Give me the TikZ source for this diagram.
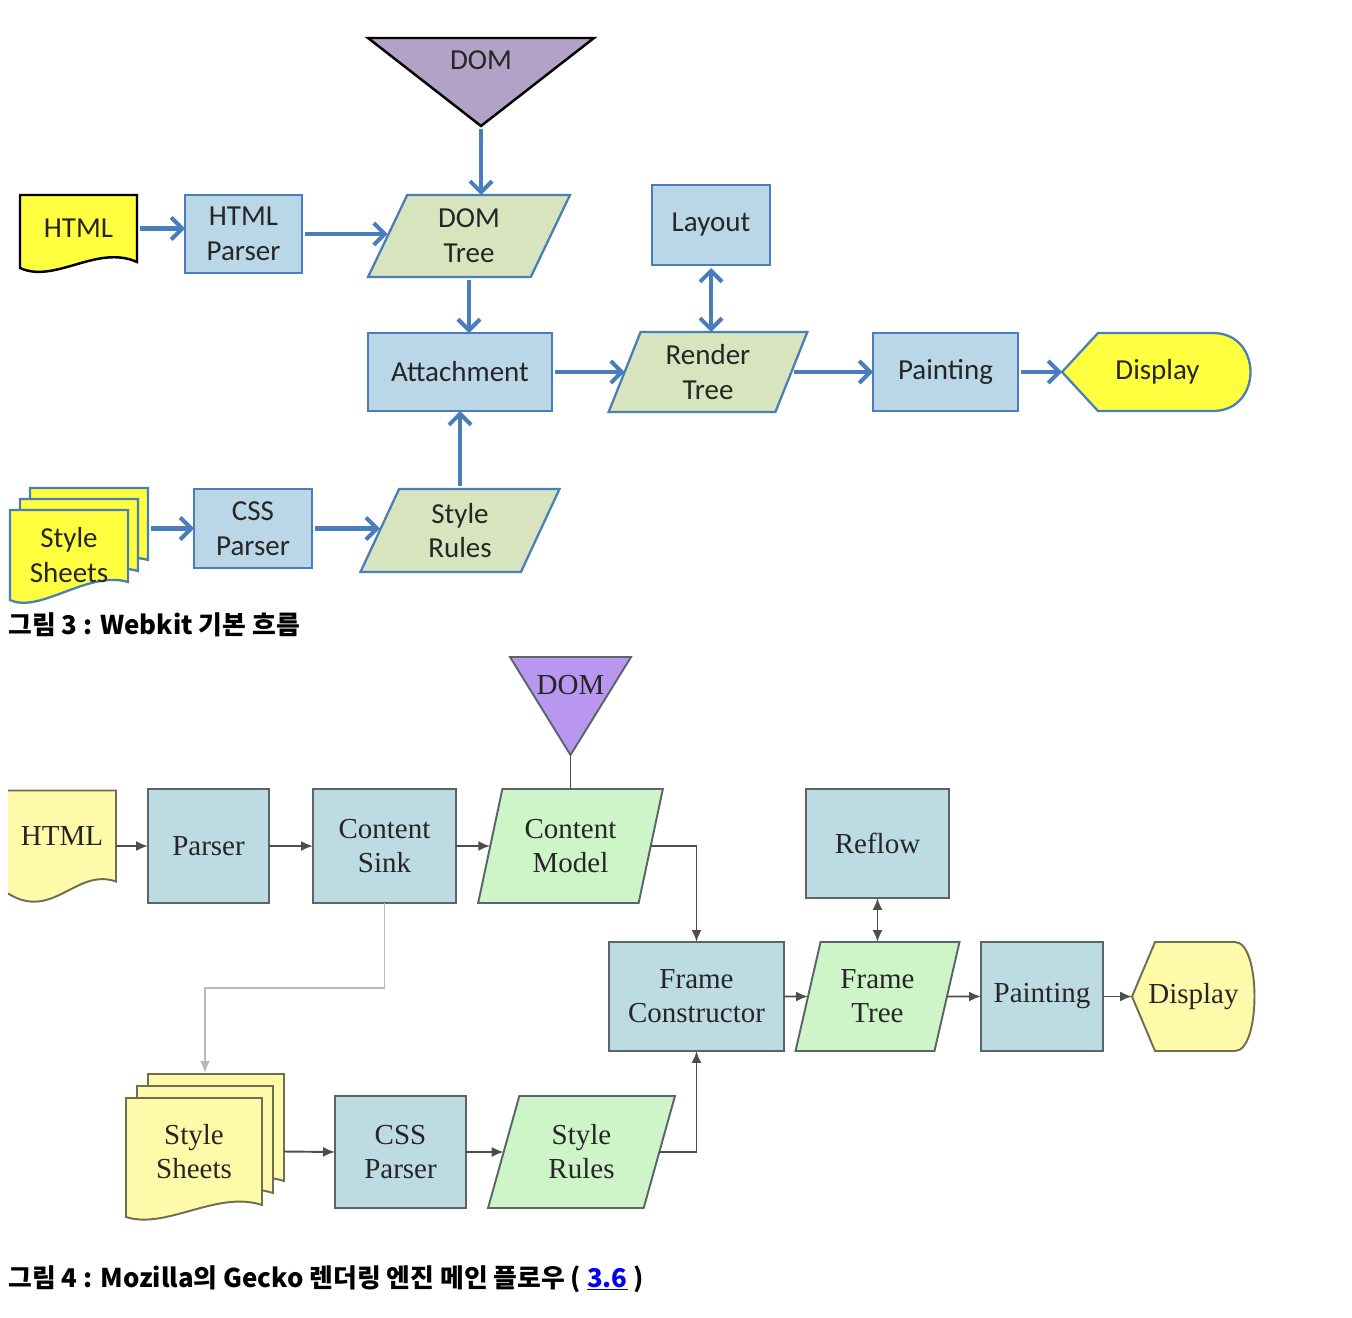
\documentclass[tikz,border=0pt]{standalone}
\usepackage{fontspec}
\setmainfont{Carlito}
\newfontfamily\gkfont{Liberation Serif}
\newfontfamily\krfont{Noto Sans CJK KR}
\usepackage{tikz}
\usetikzlibrary{arrows.meta, shapes.geometric, calc, backgrounds}

\definecolor{wkblue}{RGB}{185,215,230}
\definecolor{wkline}{RGB}{74,126,187}
\definecolor{wkgreen}{RGB}{215,228,189}
\definecolor{wkyellow}{RGB}{255,255,64}
\definecolor{wkpurple}{RGB}{179,162,199}
\definecolor{gkblue}{RGB}{189,219,226}
\definecolor{gkline}{RGB}{90,100,105}
\definecolor{gkgreen}{RGB}{205,245,200}
\definecolor{gkyellow}{RGB}{255,250,170}
\definecolor{gkyline}{RGB}{110,110,80}
\definecolor{gkpurple}{RGB}{185,150,240}
\definecolor{gkconn}{RGB}{77,77,77}
\definecolor{gkpale}{RGB}{185,185,185}
\definecolor{linkblue}{RGB}{0,0,238}

\begin{document}
\begin{tikzpicture}[x=0.02cm, y=-0.02cm,
    wk/.style={font=\fontsize{16.5}{19.8}\selectfont, text=black!85, align=center, inner sep=0pt, outer sep=0pt},
    wkbox/.style={wk, rectangle, draw=wkline, fill=wkblue, line width=1.3pt},
    wkdata/.style={wk, trapezium, trapezium left angle=70, trapezium right angle=110, trapezium stretches=true, draw=wkline, fill=wkgreen, line width=1.3pt},
    wkarrow/.style={->, >={Straight Barb[length=2.2mm, width=4.4mm]}, draw=wkline, line width=2.3pt, shorten <=0.06cm},
    gk/.style={font=\gkfont\fontsize{16.5}{19.3}\selectfont, text=black!85, align=center, inner sep=0pt, outer sep=0pt},
    gkbox/.style={gk, rectangle, draw=gkline, fill=gkblue, line width=1.1pt},
    gkdata/.style={gk, trapezium, trapezium left angle=73, trapezium right angle=107, trapezium stretches=true, draw=gkline, fill=gkgreen, line width=1.1pt},
    gkarrow/.style={->, >={Latex[length=2.4mm, width=2mm]}, draw=gkconn, line width=1.1pt},
    caption/.style={font=\krfont\bfseries\fontsize{14.7}{17}\selectfont, inner sep=0pt, anchor=base west}]
  \useasboundingbox (0,0) rectangle (1352,1318);

  % Webkit
  \node[wk, minimum width=4.52cm, minimum height=0.88cm] (dom1) at (481,60) {DOM};
  \coordinate (dom1tip) at ($(dom1.south)+(0,44)$);
  \node[wk, minimum width=2.34cm, minimum height=1.34cm] (html) at (78.5,228.5) {HTML};
  \node[wkbox, minimum width=2.34cm, minimum height=1.56cm] (hp) at (243.5,234) {HTML\\Parser};
  \node[wkdata, minimum width=4.04cm, minimum height=1.64cm] (dt) at (469,236) {DOM\\Tree};
  \node[wkbox, minimum width=2.36cm, minimum height=1.6cm] (lay) at (711,225) {Layout};
  \node[wkbox, minimum width=3.68cm, minimum height=1.56cm] (att) at (460,372) {Attachment};
  \node[wkdata, minimum width=4cm, minimum height=1.6cm] (rt) at (708,372) {Render\\Tree};
  \node[wkbox, minimum width=2.9cm, minimum height=1.56cm] (pnt) at (945.5,372) {Painting};
  \node[wk, minimum width=3.82cm, minimum height=1.56cm] (disp) at (1157.5,372) {Display};
  \node[wk, minimum width=2.36cm, minimum height=1.8cm] (ss) at (69,555) {Style\\Sheets};
  \node[wkbox, minimum width=2.36cm, minimum height=1.58cm] (css) at (253,528.5) {CSS\\Parser};
  \node[wkdata, minimum width=4cm, minimum height=1.66cm] (sr) at (460,530.5) {Style\\Rules};

  \begin{scope}[on background layer]
    \draw[fill=wkpurple, line width=1.4pt] (dom1.north west) -- (dom1.north east) -- (dom1tip) -- cycle;
    \draw[fill=wkyellow, line width=1.4pt] (html.north west) -- (html.north east) -- (html.south east)
      .. controls ($(html.south east)+(-40,-18)$) and ($(html.south west)+(35,22)$) .. ($(html.south west)+(0,6)$) -- cycle;
    \foreach \d in {2,1,0}
      \draw[fill=wkyellow, draw=wkline, line width=1.3pt] ($(ss.north west)+(10*\d,-11*\d)$) -- ($(ss.north east)+(10*\d,-11*\d)$) -- ($(ss.south east)+(10*\d,-11*\d-18)$)
        .. controls ($(ss.south east)+(10*\d-40,-11*\d-30)$) and ($(ss.south west)+(10*\d+30,-11*\d+14)$) .. ($(ss.south west)+(10*\d,-11*\d)$) -- cycle;
    \draw[fill=wkyellow, draw=wkline, line width=1.3pt] (disp.west) -- ($(disp.north west)+(36,0)$) -- ($(disp.north east)+(-40,0)$)
      .. controls ($(disp.north east)+(10,0)$) and ($(disp.south east)+(10,0)$) .. ($(disp.south east)+(-40,0)$) -- ($(disp.south west)+(36,0)$) -- cycle;
  \end{scope}

  \draw[wkarrow] (html.east) -- (html.east -| hp.west);
  \draw[wkarrow] (hp.east) -- (hp.east -| dt.west);
  \draw[wkarrow] (dom1tip) -- (dom1tip |- dt.north);
  \draw[wkarrow] (dt.center |- dt.south) -- (dt.center |- att.north);
  \draw[wkarrow] (att.east) -- (att.east -| rt.west);
  \draw[wkarrow, <->] (lay.south) -- (lay.south |- rt.north);
  \draw[wkarrow] (rt.east) -- (rt.east -| pnt.west);
  \draw[wkarrow] (pnt.east) -- (disp.west);
  \draw[wkarrow] ($(ss.east |- css.west)+(20,0)$) -- (css.west);
  \draw[wkarrow] (css.east) -- (css.east -| sr.west);
  \draw[wkarrow] (sr.center |- sr.north) -- (sr.center |- att.south);

  \node[caption] (cap1) at (8,634) {그림 3 : Webkit 기본 흐름};

  % Gecko
  \node[gk, minimum width=2.42cm, minimum height=1.12cm] (dom2) at (570.5,685) {DOM};
  \coordinate (dom2tip) at ($(dom2.south)+(0,42)$);
  \node[gk, minimum width=2.16cm, minimum height=1.82cm] (html2) at (62,836) {HTML};
  \node[gkbox, minimum width=2.42cm, minimum height=2.28cm] (par) at (208.5,846) {Parser};
  \node[gkbox, minimum width=2.86cm, minimum height=2.28cm] (sink) at (384.5,846) {Content\\Sink};
  \node[gkdata, minimum width=3.7cm, minimum height=2.28cm] (model) at (570.5,846) {Content\\Model};
  \node[gkbox, minimum width=2.86cm, minimum height=2.18cm] (reflow) at (877.5,843.5) {Reflow};
  \node[gkbox, minimum width=3.5cm, minimum height=2.18cm] (fc) at (696.5,996.5) {Frame\\Constructor};
  \node[gkdata, minimum width=3.3cm, minimum height=2.18cm] (ft) at (877.5,996.5) {Frame\\Tree};
  \node[gkbox, minimum width=2.44cm, minimum height=2.18cm] (pnt2) at (1042,996.5) {Painting};
  \node[gk, minimum width=2.46cm, minimum height=2.18cm] (disp2) at (1193.5,996.5) {Display};
  \node[gk, minimum width=2.72cm, minimum height=2.14cm] (ss2) at (194,1151.5) {Style\\Sheets};
  \node[gkbox, minimum width=2.62cm, minimum height=2.24cm] (css2) at (400.5,1152) {CSS\\Parser};
  \node[gkdata, minimum width=3.74cm, minimum height=2.24cm] (sr2) at (581.5,1152) {Style\\Rules};

  \begin{scope}[on background layer]
    \draw[fill=gkpurple, draw=gkline, line width=1.1pt] (dom2.north west) -- (dom2.north east) -- (dom2tip) -- cycle;
    \fill[gkyellow] (html2.north west) -- (html2.north east) -- (html2.south east)
      .. controls ($(html2.south east)+(-40,-14)$) and ($(html2.south west)+(45,40)$) .. ($(html2.south west)+(0,12)$) -- cycle;
    \draw[gkyline, line width=1.1pt] (html2.north west) -- (html2.north east) -- (html2.south east)
      .. controls ($(html2.south east)+(-40,-14)$) and ($(html2.south west)+(45,40)$) .. ($(html2.south west)+(0,12)$);
    \foreach \d in {2,1,0}
      \draw[fill=gkyellow, draw=gkyline, line width=1.1pt] ($(ss2.north west)+(11*\d,-12*\d)$) -- ($(ss2.north east)+(11*\d,-12*\d)$) -- ($(ss2.south east)+(11*\d,-12*\d)$)
        .. controls ($(ss2.south east)+(11*\d-45,-12*\d-15)$) and ($(ss2.south west)+(11*\d+40,-12*\d+25)$) .. ($(ss2.south west)+(11*\d,-12*\d+12)$) -- cycle;
    \draw[fill=gkyellow, draw=gkyline, line width=1.1pt] (disp2.west) -- ($(disp2.north west)+(23,0)$) -- ($(disp2.north east)+(-20,0)$)
      .. controls ($(disp2.north east)+(6,0)$) and ($(disp2.south east)+(6,0)$) .. ($(disp2.south east)+(-20,0)$) -- ($(disp2.south west)+(23,0)$) -- cycle;
  \end{scope}

  \draw[gkarrow, -] (dom2tip) -- (dom2tip |- model.north);
  \draw[gkarrow] (html2.east |- par.west) -- (par.west);
  \draw[gkarrow] (par.east) -- (sink.west);
  \draw[gkarrow] (sink.east) -- (model.west);
  \draw[gkarrow] (model.east) -| (fc.north);
  \draw[gkarrow, draw=gkpale] (sink.south) -- ++(0,85) -| ($(ss2.north)+(11,-25)$);
  \draw[gkarrow] ($(ss2.east)+(22,0)$) -- (css2.west);
  \draw[gkarrow] (css2.east) -- (sr2.west);
  \draw[gkarrow] (sr2.east) -| (fc.south);
  \draw[gkarrow] (fc.east) -- (ft.west);
  \draw[gkarrow, <->] (reflow.south) -- (reflow.south |- ft.north);
  \draw[gkarrow] (ft.east) -- (pnt2.west);
  \draw[gkarrow] (pnt2.east) -- (disp2.west);

  \node[caption] (cap2) at (8,1287) {그림 4 : Mozilla의 Gecko 렌더링 엔진 메인 플로우 ( \textcolor{linkblue}{\underline{3.6}} )};
\end{tikzpicture}
\end{document}
